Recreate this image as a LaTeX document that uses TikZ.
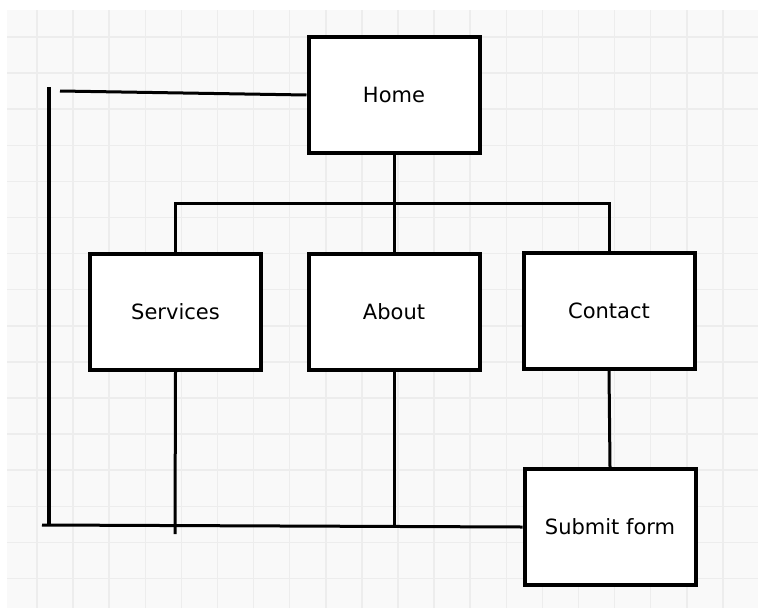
\documentclass[tikz,border=0pt]{standalone}
\usepackage{fontspec}
\setmainfont{DejaVu Sans}
\definecolor{gridbg}{HTML}{F9F9F9}
\definecolor{gridln}{HTML}{EDEDED}
\begin{document}
\begin{tikzpicture}[x=1pt,y=-1pt,
  pagebox/.style={draw=black,fill=white,line width=4pt,minimum width=171pt,minimum height=116pt,
    font=\fontsize{21}{24}\selectfont,inner sep=0pt},
  link/.style={draw=black,line width=3pt}]
\useasboundingbox (0,0) rectangle (762,608);
\fill[white] (0,0) rectangle (762,608);
\fill[gridbg] (7,10) rectangle (758,608);
\foreach \k in {0,...,19} {
  \draw[gridln,line width=1.5pt] ({37+36.1*\k},10) -- ({37+36.1*\k},608);
}
\foreach \k in {0,...,15} {
  \draw[gridln,line width=1.5pt] (7,{37+36.1*\k}) -- (758,{37+36.1*\k});
}
% nodes
\node[pagebox] (home) at (394,95) {Home};
\node[pagebox] (services) at (175.5,312) {Services};
\node[pagebox] (about) at (394,312) {About};
\node[pagebox] (contact) at (609,311) {Contact};
\node[pagebox] (submit) at (610,527) {Submit form};
% coordinates for free ends
\coordinate (bar) at (393,203);
\coordinate (svend) at (175,534);
\coordinate (abend) at (394,525);
\coordinate (bottomleft) at (42,525);
\coordinate (lefttop) at (49,87);
\coordinate (leftbot) at (49,525);
\coordinate (topleft) at (60,91);
% connectors
\draw[link] (home.south) -- (about.north);
\draw[link] (services.north) |- (bar) -| (contact.north);
\draw[link] (contact.south) -- (submit.north);
\draw[link] (services.south) -- (svend);
\draw[link] (about.south) -- (abend);
\draw[link] (bottomleft) -- (submit.west);
\draw[link,line width=3.5pt] (lefttop) -- (leftbot);
\draw[link] (topleft) -- (home.west);
% redraw boxes on top
\node[pagebox] at (home) {Home};
\node[pagebox] at (services) {Services};
\node[pagebox] at (about) {About};
\node[pagebox] at (contact) {Contact};
\node[pagebox] at (submit) {Submit form};
\end{tikzpicture}
\end{document}
